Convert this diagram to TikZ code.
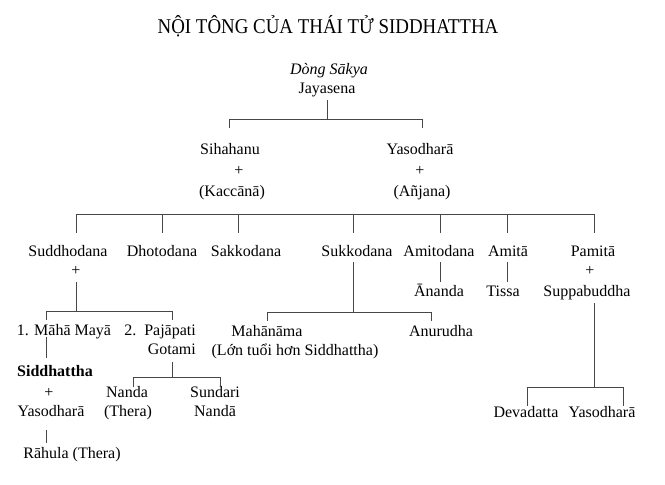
\documentclass[tikz,border=0pt]{standalone}
\usepackage{fontspec}
\setmainfont{Liberation Serif}
\newfontfamily\titlefont[FakeStretch=0.9]{Liberation Serif}
\begin{document}
\begin{tikzpicture}[x=1pt,y=-1pt,
  lbl/.style={inner sep=0pt, text height=11pt, text depth=3.5pt, font=\fontsize{16}{19}\selectfont},
  conn/.style={draw=black!72, line width=1pt}]
\useasboundingbox (0,0) rectangle (665,485);
\fill[white] (0,0) rectangle (665,485);

% title
\node[inner sep=0pt, font=\titlefont\fontsize{21}{24}\selectfont] (title) at (328,26) {NỘI TÔNG CỦA THÁI TỬ SIDDHATTHA};

% generation 0
\node[lbl, font=\fontsize{16}{19}\selectfont\itshape] (dong) at (329,71) {Dòng Sākya};
\node[lbl] (jay) at (327,90) {Jayasena};

% generation 1
\node[lbl] (sih) at (230,151) {Sihahanu};
\node[lbl] (sihp) at (239,172) {+};
\node[lbl] (kac) at (232,193) {(Kaccānā)};
\node[lbl] (yas1) at (420,151) {Yasodharā};
\node[lbl] (yasp) at (420,172) {+};
\node[lbl] (anj) at (422,193) {(Añjana)};

% generation 2
\node[lbl] (sud) at (68,253) {Suddhodana};
\node[lbl] (sudp) at (76,272) {+};
\node[lbl] (dho) at (162,253) {Dhotodana};
\node[lbl] (sak) at (246,253) {Sakkodana};
\node[lbl] (suk) at (357,253) {Sukkodana};
\node[lbl] (ami) at (439,253) {Amitodana};
\node[lbl] (amt) at (508,253) {Amitā};
\node[lbl] (pam) at (593,253) {Pamitā};
\node[lbl] (pamp) at (590,272) {+};
\node[lbl] (sup) at (587,293) {Suppabuddha};
\node[lbl] (ana) at (439,293) {Ānanda};
\node[lbl] (tis) at (503,293) {Tissa};

% generation 3
\node[lbl] (maha) at (64,332) {1. Māhā Mayā};
\node[lbl, anchor=east] (paja) at (196,332) {2.\ \ Pajāpati};
\node[lbl, anchor=east] (got) at (196,351) {Gotami};
\node[lbl, font=\fontsize{16}{19}\selectfont\bfseries] (sid) at (55,373) {Siddhattha};
\node[lbl] (sidp) at (49,394) {+};
\node[lbl] (yas2) at (51,413) {Yasodharā};
\node[lbl] (rah) at (72,455) {Rāhula (Thera)};
\node[lbl] (nan) at (127,394) {Nanda};
\node[lbl] (the) at (128,413) {(Thera)};
\node[lbl] (sun) at (215,394) {Sundari};
\node[lbl] (nand) at (215,413) {Nandā};
\node[lbl] (mah) at (267,333) {Mahānāma};
\node[lbl] (lon) at (295,352) {(Lớn tuổi hơn Siddhattha)};
\node[lbl] (anu) at (441,333) {Anurudha};
\node[lbl] (dev) at (526,414) {Devadatta};
\node[lbl] (yas3) at (602,414) {Yasodharā};

% junction coordinates
\coordinate (b1) at (327,119);
\coordinate (b2) at (330,214);
\coordinate (b3) at (76,311);
\coordinate (b4) at (172,377);
\coordinate (b5) at (353,312);
\coordinate (b6) at (594,387);

% Jayasena
\draw[conn] (jay.south) ++(0,3) -- (b1);
\draw[conn] ([xshift=-1pt]sih.north) ++(0,-15.75) |- (b1);
\draw[conn] ([xshift=2pt]yas1.north) ++(0,-15.75) |- (b1);

% Sihahanu's children
\draw[conn] ([xshift=8pt]sud.north) ++(0,-12.75) |- (b2);
\draw[conn] (dho.north) ++(0,-12.75) |- (b2);
\draw[conn] ([xshift=-8pt]sak.north) ++(0,-12.75) |- (b2);
\draw[conn] ([xshift=-4pt]suk.north) ++(0,-12.75) |- (b2);
\draw[conn] ([xshift=1pt]ami.north) ++(0,-12.75) |- (b2);
\draw[conn] ([xshift=-1pt]amt.north) ++(0,-12.75) |- (b2);
\draw[conn] ([xshift=1pt]pam.north) ++(0,-12.75) |- (b2);

% Suddhodana
\draw[conn] (sudp.south) ++(0,3) -- (b3);
\draw[conn] ([xshift=-18pt]maha.north) ++(0,-4.75) |- (b3);
\draw[conn] ([xshift=-24pt]paja.north east) ++(0,-4.75) |- (b3);
\draw[conn] ([xshift=-18pt]maha.south) ++(0,-2) -- ++(0,21);
\draw[conn] ([xshift=-5pt]yas2.south) ++(0,10) -- ++(0,13);

% Pajapati Gotami
\draw[conn] ([xshift=-24pt]got.south east) ++(0,3.75) -- (b4);
\draw[conn] ([xshift=6pt]nan.north) |- (b4);
\draw[conn] ([xshift=5pt]sun.north) |- (b4);

% Sukkodana
\draw[conn] ([xshift=-4pt]suk.south) ++(0,2) -- (b5);
\draw[conn] (mah.north) ++(0,-4.75) |- (b5);
\draw[conn] ([xshift=-10pt]anu.north) ++(0,-4.75) |- (b5);

% Amitodana, Amita
\draw[conn] ([xshift=1pt]ami.south) ++(0,2) -- ++(0,20);
\draw[conn] ([xshift=-1pt]amt.south) ++(0,2) -- ++(0,20);

% Pamita
\draw[conn] ([xshift=7pt]sup.south) ++(0,3) -- (b6);
\draw[conn] ([xshift=1pt]dev.north) ++(0,-0.75) |- (b6);
\draw[conn] ([xshift=21pt]yas3.north) ++(0,-0.75) |- (b6);
\end{tikzpicture}
\end{document}
